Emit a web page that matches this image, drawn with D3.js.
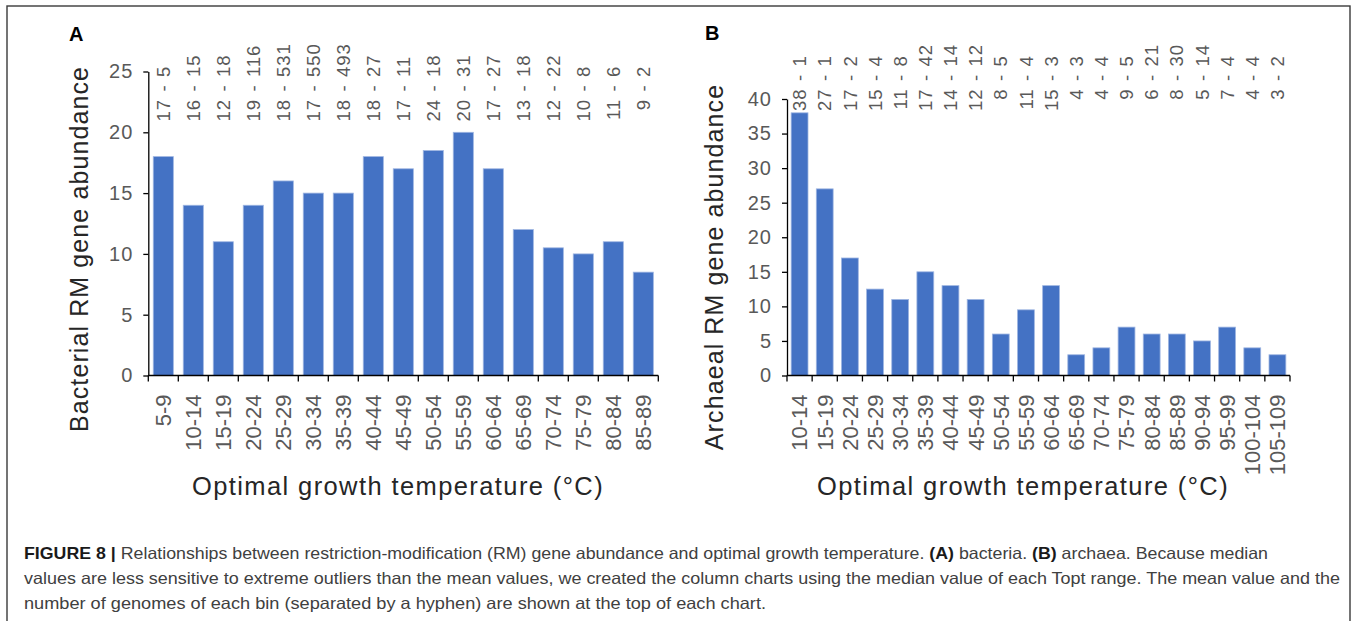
<!DOCTYPE html>
<html>
<head>
<meta charset="utf-8">
<script src="https://cdn.jsdelivr.net/npm/d3@7"></script>
<style>
  html, body { margin: 0; padding: 0; background: #fff; }
  svg { display: block; }
</style>
</head>
<body>
<svg id="fig" width="1357" height="621"></svg>
<script>
// ---- Panel A: bacteria ----
const binsA = ["5-9","10-14","15-19","20-24","25-29","30-34","35-39","40-44","45-49",
               "50-54","55-59","60-64","65-69","70-74","75-79","80-84","85-89"];
const medianA = [18, 14, 11, 14, 16, 15, 15, 18, 17, 18.5, 20, 17, 12, 10.5, 10, 11, 8.5];
const meanA   = [17, 16, 12, 19, 18, 17, 18, 18, 17, 24, 20, 17, 13, 12, 10, 11, 9];
const countA  = [5, 15, 18, 116, 531, 550, 493, 27, 11, 18, 31, 27, 18, 22, 8, 6, 2];
const ticksA  = [0, 5, 10, 15, 20, 25];

// ---- Panel B: archaea ----
const binsB = ["10-14","15-19","20-24","25-29","30-34","35-39","40-44","45-49","50-54",
               "55-59","60-64","65-69","70-74","75-79","80-84","85-89","90-94","95-99",
               "100-104","105-109"];
const medianB = [38, 27, 17, 12.5, 11, 15, 13, 11, 6, 9.5, 13, 3, 4, 7, 6, 6, 5, 7, 4, 3];
const meanB   = [38, 27, 17, 15, 11, 17, 14, 12, 8, 11, 15, 4, 4, 9, 6, 8, 5, 7, 4, 3];
const countB  = [1, 1, 2, 4, 8, 42, 14, 12, 5, 4, 3, 3, 4, 5, 21, 30, 14, 4, 4, 2];
const ticksB  = [0, 5, 10, 15, 20, 25, 30, 35, 40];

const captionLines = [
  [["FIGURE 8 | ", true], ["Relationships between restriction-modification (RM) gene abundance and optimal growth temperature. ", false],
   ["(A)", true], [" bacteria. ", false], ["(B)", true], [" archaea. Because median", false]],
  [["values are less sensitive to extreme outliers than the mean values, we created the column charts using the median value of each Topt range. The mean value and the", false]],
  [["number of genomes of each bin (separated by a hyphen) are shown at the top of each chart.", false]]
];

const BAR = "#4472C4";
const FONT = "'Liberation Sans', Arial, Helvetica, sans-serif";
const svg = d3.select("#fig");

// outer frame
svg.append("rect")
  .attr("x", 7).attr("y", 6).attr("width", 1343).attr("height", 640)
  .attr("fill", "none").attr("stroke", "#3a3a3a").attr("stroke-width", 1.4);

function panel(cfg) {
  const g = svg.append("g");
  const x = d3.scaleBand().domain(cfg.bins).range(cfg.xRange)
    .paddingInner(0.33).paddingOuter(0.165);
  const y = d3.scaleLinear().domain([0, d3.max(cfg.ticks)]).range(cfg.yRange);

  // bars
  g.selectAll("rect.bar").data(cfg.values).join("rect")
    .attr("class", "bar")
    .attr("x", (d, i) => x(cfg.bins[i]))
    .attr("width", x.bandwidth())
    .attr("y", d => y(d))
    .attr("height", d => y(0) - y(d))
    .attr("fill", BAR)
    .attr("stroke", "#9fb6e2").attr("stroke-width", 0.8);

  // y axis
  const ya = g.append("g")
    .attr("transform", `translate(${cfg.xRange[0]},0)`)
    .call(d3.axisLeft(y).tickValues(cfg.ticks).tickSize(5).tickSizeOuter(0).tickPadding(10));
  ya.select(".domain").attr("stroke", "#000").attr("stroke-width", 1.3);
  ya.selectAll(".tick line").attr("stroke", "#000").attr("stroke-width", 1.3);
  ya.selectAll(".tick text")
    .attr("font-family", FONT).attr("font-size", 20).attr("fill", "#595959")
    .attr("letter-spacing", "1px");

  // x axis line with ticks at bin boundaries
  const x0 = x.range()[0], step = x.step();
  const edges = d3.range(cfg.bins.length + 1).map(i => x0 + i * step);
  g.append("line")
    .attr("x1", x0).attr("x2", x.range()[1])
    .attr("y1", y(0)).attr("y2", y(0))
    .attr("stroke", "#000").attr("stroke-width", 1.3);
  g.selectAll("line.xt").data(edges).join("line")
    .attr("class", "xt")
    .attr("x1", d => d).attr("x2", d => d)
    .attr("y1", y(0)).attr("y2", y(0) + 6)
    .attr("stroke", "#000").attr("stroke-width", 1.3);

  // bin labels (rotated)
  g.selectAll("text.bin").data(cfg.bins).join("text")
    .attr("class", "bin")
    .attr("transform", d => `translate(${x(d) + x.bandwidth() / 2},${y(0) + 19}) rotate(-90)`)
    .attr("text-anchor", "end").attr("dy", "0.36em")
    .attr("font-family", FONT).attr("font-size", 22).attr("fill", "#595959")
    .text(d => d);

  // mean - count labels, aligned on the hyphen
  const lab = g.selectAll("g.lab").data(cfg.bins).join("g")
    .attr("class", "lab")
    .attr("transform", d => `translate(${x(d) + x.bandwidth() / 2},${cfg.hyphenY}) rotate(-90)`)
    .attr("font-family", FONT).attr("font-size", 18.5).attr("fill", "#595959")
    .attr("letter-spacing", "0.9px");
  lab.append("text").attr("x", -11).attr("dy", "0.36em").attr("text-anchor", "end")
    .text((d, i) => cfg.mean[i]);
  lab.append("text").attr("x", 0).attr("dy", "0.36em").attr("text-anchor", "middle")
    .text("-");
  lab.append("text").attr("x", 11).attr("dy", "0.36em").attr("text-anchor", "start")
    .text((d, i) => cfg.count[i]);

  // axis titles
  g.append("text")
    .attr("transform", `translate(${cfg.yTitle[0]},${cfg.yTitle[1]}) rotate(-90)`)
    .attr("text-anchor", "middle")
    .attr("font-family", FONT).attr("font-size", 25).attr("fill", "#262626")
    .attr("letter-spacing", "1.1px")
    .text(cfg.yLabel);
  g.append("text")
    .attr("x", cfg.xTitle[0]).attr("y", cfg.xTitle[1])
    .attr("text-anchor", "middle")
    .attr("font-family", FONT).attr("font-size", 25.5).attr("fill", "#262626")
    .attr("letter-spacing", "1.4px")
    .text("Optimal growth temperature (°C)");

  // panel letter
  g.append("text")
    .attr("x", cfg.letterPos[0]).attr("y", cfg.letterPos[1])
    .attr("font-family", FONT).attr("font-size", 20).attr("font-weight", "bold").attr("fill", "#000")
    .text(cfg.letter);
}

panel({
  bins: binsA, values: medianA, mean: meanA, count: countA, ticks: ticksA,
  xRange: [148.3, 658.3], yRange: [375.5, 71.5], hyphenY: 88,
  yLabel: "Bacterial RM gene abundance", yTitle: [88, 249], xTitle: [398, 495],
  letter: "A", letterPos: [69, 41]
});
panel({
  bins: binsB, values: medianB, mean: meanB, count: countB, ticks: ticksB,
  xRange: [787, 1290], yRange: [375.5, 99], hyphenY: 77.5,
  yLabel: "Archaeal RM gene abundance", yTitle: [723, 267], xTitle: [1023, 495],
  letter: "B", letterPos: [705, 40]
});

// caption
const capWidths = [1244, 1316, 742];
captionLines.forEach((parts, li) => {
  const t = svg.append("text")
    .attr("x", 24).attr("y", 558.5 + li * 25)
    .attr("font-family", FONT).attr("font-size", 16.5).attr("fill", "#404040")
    .attr("textLength", capWidths[li]).attr("lengthAdjust", "spacingAndGlyphs");
  parts.forEach(([s, bold]) => {
    t.append("tspan")
      .attr("font-weight", bold ? "bold" : "normal")
      .attr("fill", bold ? "#1a1a1a" : "#404040")
      .text(s);
  });
});
</script>
</body>
</html>
